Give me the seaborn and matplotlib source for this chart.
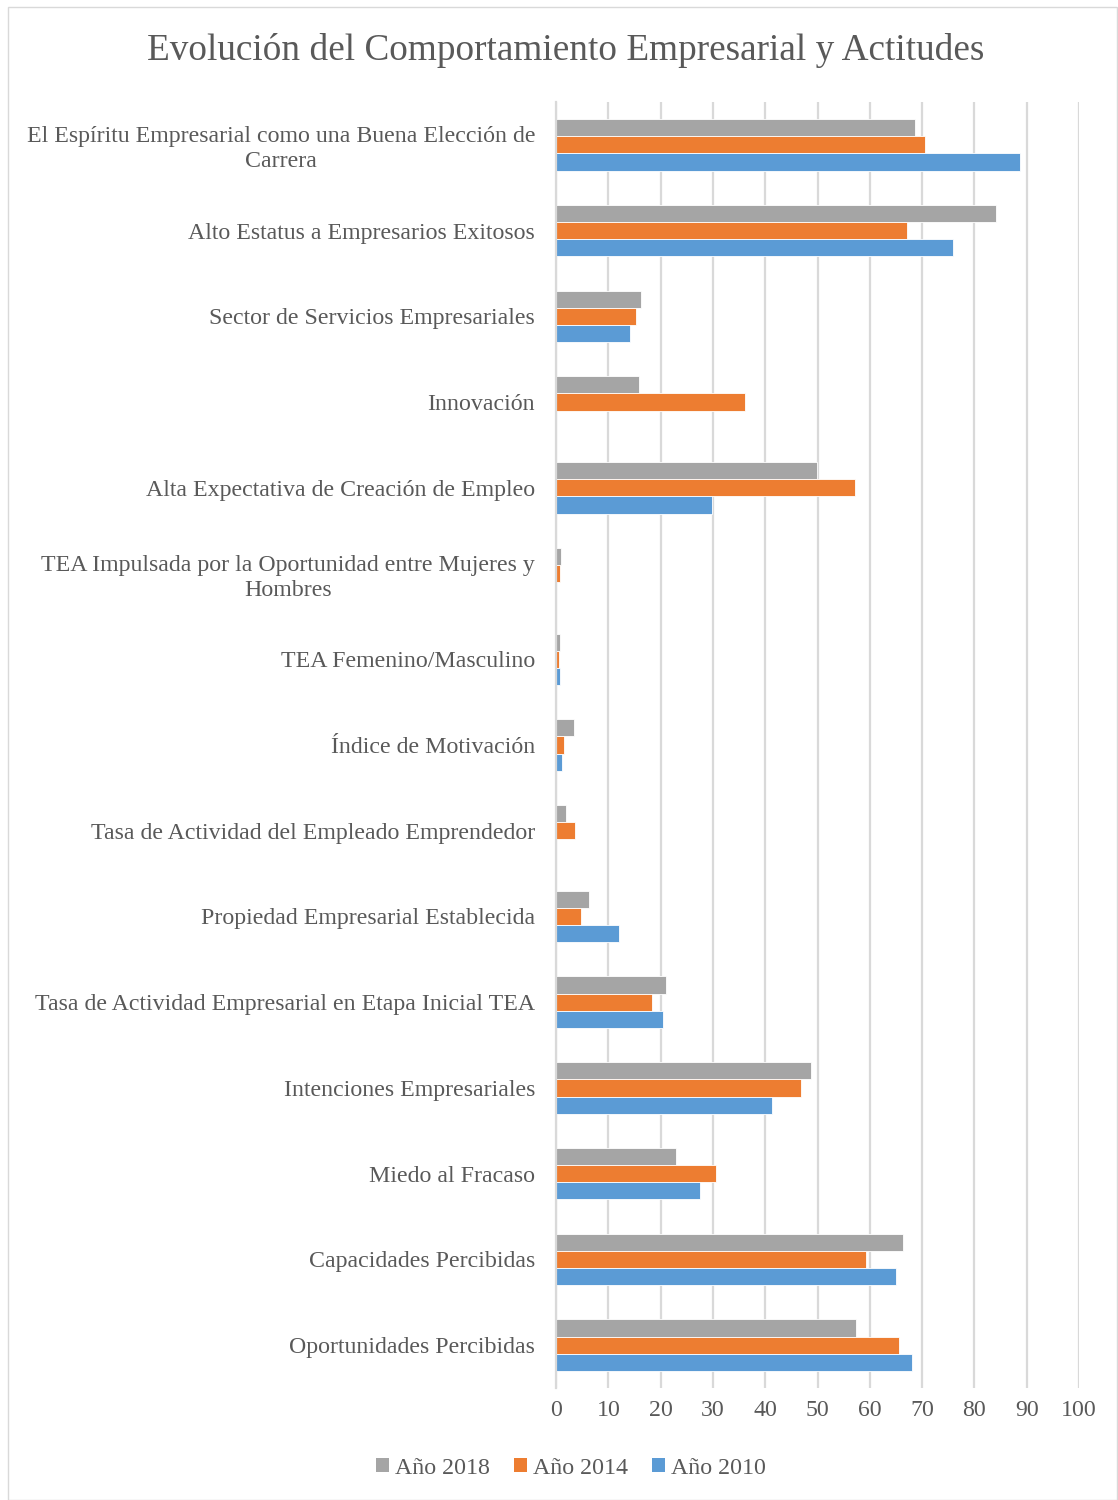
import numpy as np
import pandas as pd
import matplotlib
matplotlib.use("Agg")
import matplotlib.pyplot as plt
import seaborn as sns
from matplotlib.patches import Rectangle, Patch

categories = [
    "El Espíritu Empresarial como una Buena Elección de\nCarrera",
    "Alto Estatus a Empresarios Exitosos",
    "Sector de Servicios Empresariales",
    "Innovación",
    "Alta Expectativa de Creación de Empleo",
    "TEA Impulsada por la Oportunidad entre Mujeres y\nHombres",
    "TEA Femenino/Masculino",
    "Índice de Motivación",
    "Tasa de Actividad del Empleado Emprendedor",
    "Propiedad Empresarial Establecida",
    "Tasa de Actividad Empresarial en Etapa Inicial TEA",
    "Intenciones Empresariales",
    "Miedo al Fracaso",
    "Capacidades Percibidas",
    "Oportunidades Percibidas",
]
anio_2018 = [68.7, 84.2, 16.3, 15.9, 49.9, 0.9, 0.7, 3.5, 1.9, 6.3, 21.0, 48.8, 23.0, 66.3, 57.4]
anio_2014 = [70.5, 67.2, 15.3, 36.1, 57.2, 0.8, 0.6, 1.6, 3.7, 4.8, 18.4, 46.8, 30.6, 59.3, 65.6]
anio_2010 = [88.7, 76.0, 14.1, np.nan, 29.8, np.nan, 0.8, 1.1, np.nan, 12.1, 20.5, 41.3, 27.5, 65.0, 68.1]
series_names = ["Año 2018", "Año 2014", "Año 2010"]
colors = ["#A5A5A5", "#ED7D31", "#5B9BD5"]
xticks = [0, 10, 20, 30, 40, 50, 60, 70, 80, 90, 100]

rows = []
for name, vals in zip(series_names, [anio_2018, anio_2014, anio_2010]):
    for c, v in zip(categories, vals):
        rows.append({"categoria": c, "serie": name, "valor": v})
df = pd.DataFrame(rows)

sns.set_style("white")
plt.rcParams["font.family"] = ["Liberation Serif", "DejaVu Serif"]
text_color = "#595959"

fig = plt.figure(figsize=(11.18, 15), dpi=100)
ax = fig.add_axes([556 / 1118, 1 - 1388 / 1500, (1079 - 556) / 1118, (1388 - 102) / 1500])

sns.barplot(data=df, y="categoria", x="valor", hue="serie", order=categories,
            hue_order=series_names, palette=colors, width=0.6, saturation=1,
            orient="h", ax=ax, legend=False, edgecolor="white", linewidth=0.6)

ax.set_xlim(0, 100)
ax.set_xticks(xticks)
ax.set_xlabel("")
ax.set_ylabel("")
ax.grid(axis="x", color="#D9D9D9", linewidth=1.6)
ax.grid(axis="y", visible=False)
ax.set_axisbelow(True)
for s in ["top", "right", "bottom"]:
    ax.spines[s].set_visible(False)
ax.spines["left"].set_color("#D9D9D9")
ax.spines["left"].set_linewidth(1.6)
ax.tick_params(axis="both", length=0, labelsize=17.2, labelcolor=text_color)
ax.tick_params(axis="y", pad=15)
ax.tick_params(axis="x", pad=9)
for lbl in ax.get_yticklabels():
    lbl.set_multialignment("center")
    lbl.set_linespacing(1.25)

fig.text(566 / 1118, 1 - 51 / 1500, "Evolución del Comportamiento Empresarial y Actitudes",
         ha="center", va="center", fontsize=26.8, color=text_color)

handles = [Patch(facecolor=c, edgecolor="none") for c in colors]
fig.legend(handles, series_names, loc="center", bbox_to_anchor=(571 / 1118, 1 - 1468 / 1500),
           ncol=3, frameon=False, fontsize=17.2, handlelength=0.55, handleheight=0.55,
           handletextpad=0.25, columnspacing=1.0, labelcolor=text_color)

fig.add_artist(Rectangle((8 / 1118, 0), 1 - 8 / 1118 - 1 / 1118, 1 - 7 / 1500,
                         transform=fig.transFigure, fill=False, edgecolor="#D9D9D9", linewidth=1))

fig.savefig("out.png", dpi=100, facecolor="white")
